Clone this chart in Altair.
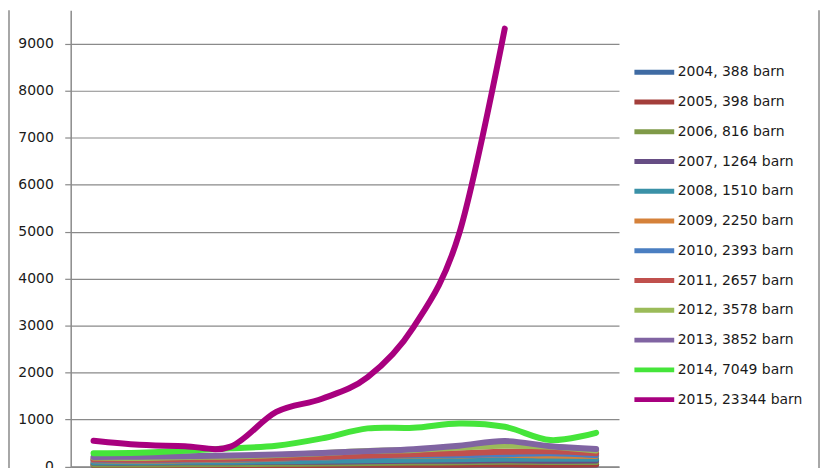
import altair as alt
import pandas as pd

months = ["jan", "feb", "mar", "apr", "maj", "jun", "jul", "aug", "sep", "okt", "nov", "dec"]

years = [2004, 2005, 2006, 2007, 2008, 2009, 2010, 2011, 2012, 2013, 2014, 2015]
totals = [388, 398, 816, 1264, 1510, 2250, 2393, 2657, 3578, 3852, 7049, 23344]

v2004 = [30, 30, 30, 30, 30, 35, 35, 35, 30, 35, 30, 38]
v2005 = [30, 30, 30, 30, 30, 30, 35, 35, 35, 40, 35, 38]
v2006 = [40, 40, 45, 50, 55, 60, 70, 80, 90, 100, 95, 91]
v2007 = [80, 80, 90, 90, 100, 100, 110, 120, 120, 130, 120, 124]
v2008 = [90, 90, 100, 100, 110, 120, 130, 140, 150, 160, 160, 160]
v2009 = [130, 120, 130, 140, 160, 190, 220, 230, 230, 250, 230, 220]
v2010 = [140, 130, 140, 150, 170, 190, 210, 240, 240, 260, 280, 240]
v2011 = [150, 140, 150, 160, 180, 200, 230, 260, 280, 310, 320, 280]
v2012 = [190, 180, 200, 210, 240, 280, 330, 350, 400, 440, 420, 340]
v2013 = [200, 205, 215, 230, 255, 285, 325, 365, 440, 540, 430, 370]
v2014 = [280, 292, 335, 385, 441, 597, 809, 822, 915, 843, 561, 716]
v2015 = [547, 460, 430, 420, 1160, 1440, 1900, 2960, 4950, 9320]

series_values = [v2004, v2005, v2006, v2007, v2008, v2009, v2010, v2011, v2012, v2013, v2014, v2015]

colors = ["#3F6BA3", "#A33E3B", "#7F9A48", "#664D84", "#3A91A7", "#D5813A",
          "#4A7EC1", "#C0504D", "#9BBB59", "#8064A2", "#45E53A", "#A8007F"]

labels = [f"{y}, {t} barn" for y, t in zip(years, totals)]

rows = []
for lab, vals in zip(labels, series_values):
    for i, (m, v) in enumerate(zip(months, vals)):
        rows.append({"month": m, "idx": i, "value": v, "series": lab})
df = pd.DataFrame(rows)

W = 551
H = 458.5
FONT = "DejaVu Sans"
GRID = "#8a8a8a"

lines = alt.Chart(df).mark_line(
    interpolate="cardinal", strokeWidth=6, strokeCap="round", strokeJoin="round"
).encode(
    x=alt.X("month:N", sort=months,
            scale=alt.Scale(type="point", padding=0.5),
            axis=alt.Axis(labels=False, ticks=False, title=None, grid=False,
                          domainColor=GRID, domainWidth=1.5)),
    y=alt.Y("value:Q",
            scale=alt.Scale(domain=[0, 9714], nice=False),
            axis=alt.Axis(values=[0, 1000, 2000, 3000, 4000, 5000, 6000, 7000, 8000, 9000],
                          format="d",
                          title=None, grid=True, gridColor=GRID, gridWidth=1.2,
                          domainColor=GRID, domainWidth=1.5, tickColor=GRID, tickWidth=1.2,
                          tickSize=6, labelPadding=11.5, labelFont=FONT, labelFontSize=14,
                          labelColor="#1a1a1a")),
    color=alt.Color("series:N",
                    scale=alt.Scale(domain=labels, range=colors),
                    legend=alt.Legend(title=None, orient="none", legendX=574, legendY=50,
                                      symbolType="M-2,0H2", symbolSize=400,
                                      symbolStrokeWidth=5, labelOffset=11,
                                      labelFont=FONT, labelFontSize=14, labelColor="#1a1a1a",
                                      rowPadding=6.9, padding=0, labelLimit=300)),
    order=alt.Order("idx:Q"),
)

frame_df = pd.DataFrame({"a": [0]})
left_frame = alt.Chart(frame_df).mark_rule(color=GRID, strokeWidth=1.5).encode(
    x=alt.value(-62), y=alt.value(0), y2=alt.value(H + 4))
right_frame = alt.Chart(frame_df).mark_rule(color=GRID, strokeWidth=1.5).encode(
    x=alt.value(752), y=alt.value(0), y2=alt.value(H + 4))

chart = alt.layer(left_frame, right_frame, lines).properties(
    width=W, height=H,
    padding={"left": 0, "top": 0, "right": 0, "bottom": 0},
).configure(
    background="white",
    view=alt.ViewConfig(stroke="transparent", strokeWidth=0),
)

chart.save("out.html", embed_options={"renderer": "svg", "actions": False})
